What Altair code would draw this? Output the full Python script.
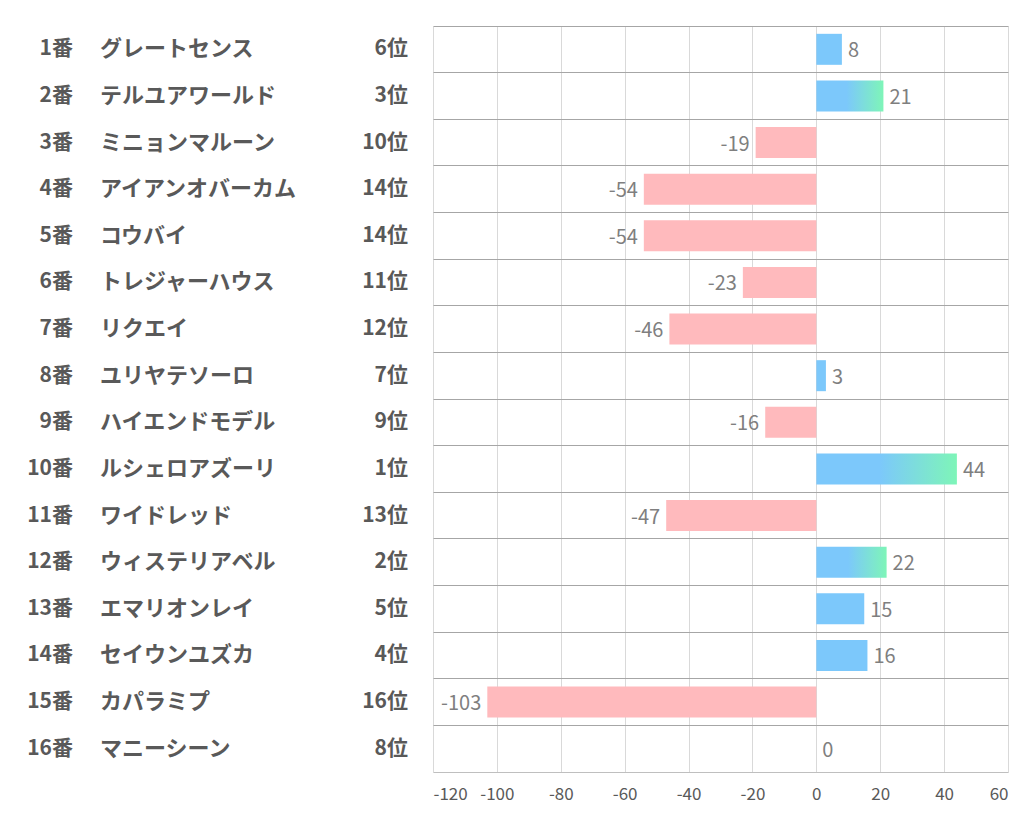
import altair as alt
import pandas as pd

numbers = [f"{i}番" for i in range(1, 17)]
names = ["グレートセンス", "テルユアワールド", "ミニョンマルーン", "アイアンオバーカム",
         "コウバイ", "トレジャーハウス", "リクエイ", "ユリヤテソーロ",
         "ハイエンドモデル", "ルシェロアズーリ", "ワイドレッド", "ウィステリアベル",
         "エマリオンレイ", "セイウンユズカ", "カパラミプ", "マニーシーン"]
ranks = ["6位", "3位", "10位", "14位", "14位", "11位", "12位", "7位",
         "9位", "1位", "13位", "2位", "5位", "4位", "16位", "8位"]
values = [8, 21, -19, -54, -54, -23, -46, 3, -16, 44, -47, 22, 15, 16, -103, 0]
ticks = list(range(-120, 61, 20))

df = pd.DataFrame({"no": numbers, "name": names, "rank": ranks, "value": values})

FONT = "Noto Sans CJK JP"
H = 746
yenc = alt.Y("no:N", sort=numbers, axis=None,
             scale=alt.Scale(paddingInner=0, paddingOuter=0))

base_left = alt.Chart(df).properties(width=425, height=H)
t_no = base_left.mark_text(align="right", baseline="middle", font=FONT, fontSize=21,
                           fontWeight="bold", color="#595959").encode(
    y=yenc, x=alt.value(65), text="no:N")
t_name = base_left.mark_text(align="left", baseline="middle", font=FONT, fontSize=22,
                             fontWeight="bold", color="#595959").encode(
    y=yenc, x=alt.value(92), text="name:N")
t_rank = base_left.mark_text(align="right", baseline="middle", font=FONT, fontSize=21,
                             fontWeight="bold", color="#595959").encode(
    y=yenc, x=alt.value(400), text="rank:N")
left = alt.layer(t_no, t_name, t_rank).properties(width=425, height=H)

xenc = alt.X("value:Q",
             scale=alt.Scale(domain=[-120, 60], nice=False),
             axis=alt.Axis(values=ticks, title=None, grid=True,
                           gridColor="#d9d9d9", domainColor="#bfbfbf", ticks=False,
                           labelExpr="'' + datum.value",
                           labelFont=FONT, labelFontSize=17, labelColor="#595959",
                           labelPadding=14))
yaxis = alt.Y("no:N", sort=numbers, title=None,
              scale=alt.Scale(paddingInner=0, paddingOuter=0),
              axis=alt.Axis(labels=False, ticks=False, domain=False, grid=True,
                            gridColor="#a6a6a6", bandPosition=0))

base = alt.Chart(df).transform_calculate(lbl="'' + datum.value")
neg_bars = base.transform_filter("datum.value < 0").mark_bar(
    color="#ffbabd", size=31).encode(x=xenc, y=yaxis)
blue_bars = base.transform_filter("datum.value >= 0 && datum.value < 20").mark_bar(
    color="#7cc8fb", size=31).encode(x=xenc, y=yaxis)
grad_bars = base.transform_filter("datum.value >= 20").mark_bar(
    size=31,
    color=alt.Gradient(gradient="linear", x1=0, x2=1, y1=0, y2=0,
                       stops=[alt.GradientStop(offset=0, color="#7cc8fb"),
                              alt.GradientStop(offset=0.45, color="#7cc8fb"),
                              alt.GradientStop(offset=1, color="#7ef5b8")])
).encode(x=xenc, y=yaxis)

pos_lbl = base.transform_filter("datum.value >= 0").mark_text(
    align="left", baseline="middle", dx=6, dy=2, font=FONT, fontSize=20,
    color="#7f7f7f").encode(x=xenc, y=yaxis, text="lbl:N")
neg_lbl = base.transform_filter("datum.value < 0").mark_text(
    align="right", baseline="middle", dx=-6, dy=2, font=FONT, fontSize=20,
    color="#7f7f7f").encode(x=xenc, y=yaxis, text="lbl:N")

right = alt.layer(neg_bars, blue_bars, grad_bars, pos_lbl, neg_lbl).properties(
    width=575, height=H)

chart = alt.hconcat(left, right, spacing=0).properties(
    padding={"left": 0, "top": 18, "right": 5, "bottom": 5}
).configure_view(stroke=None).configure_concat(spacing=0)

chart.save("out.html", embed_options={"renderer": "svg", "actions": False})
